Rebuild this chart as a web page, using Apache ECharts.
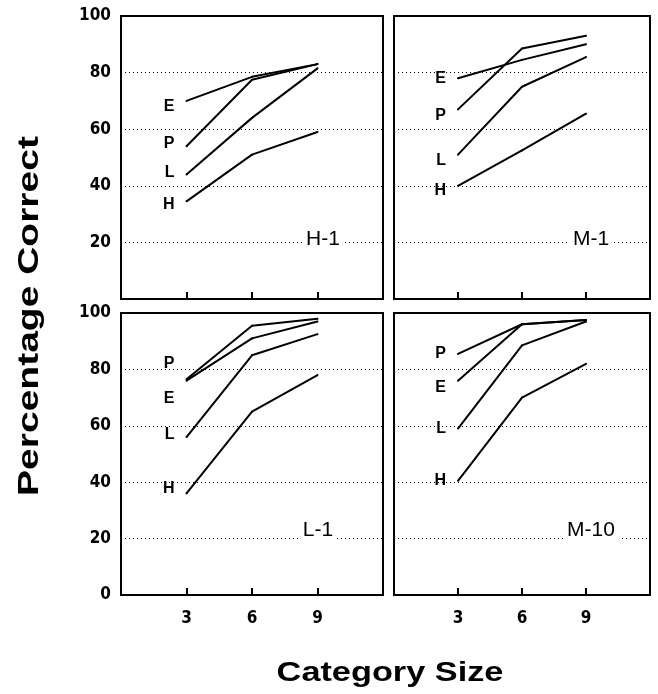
<!DOCTYPE html>
<html>
<head>
<meta charset="utf-8">
<script src="https://cdn.jsdelivr.net/npm/echarts@6/dist/echarts.min.js"></script>
<style>
  html, body { margin: 0; padding: 0; background: #fff; }
  #chart { width: 658px; height: 694px; }
</style>
</head>
<body>
<div id="chart"></div>
<script>
// category sizes on the x axis
const sizes = [3, 6, 9];
const yTicksTop = [20, 40, 60, 80, 100];
const yTicksBottom = [0, 20, 40, 60, 80, 100];

// percentage correct per condition, rows follow the names array
const namesTop = ["E", "P", "L", "H"];
const namesBottom = ["P", "E", "L", "H"];
const panelH1 = [[70, 78.5, 83], [54, 77.5, 83], [44, 64, 81.5], [34.5, 51, 59]];
const panelM1 = [[78, 84.5, 90], [67, 88.5, 93], [51, 75, 85.5], [40, 52.5, 65.5]];
const panelL1 = [[76.5, 95.5, 98], [76, 91, 97], [56, 85, 92.5], [36, 65, 78]];
const panelM10 = [[85.5, 96, 97.5], [76, 96, 97.5], [59, 88.5, 97], [40.5, 70, 82]];
const panelTitles = ["H-1", "M-1", "L-1", "M-10"];

const panels = [
  { title: panelTitles[0], names: namesTop, rows: panelH1, grid: { left: 121, top: 16, width: 262, height: 283 }, nudge: [6, -3, -2, 3], tag: [323, 239] },
  { title: panelTitles[1], names: namesTop, rows: panelM1, grid: { left: 394, top: 16, width: 256, height: 283 }, nudge: [0, 6, 6, 5], tag: [591, 239] },
  { title: panelTitles[2], names: namesBottom, rows: panelL1, grid: { left: 121, top: 313, width: 262, height: 282 }, nudge: [-16, 18, -2, -5], tag: [318, 530] },
  { title: panelTitles[3], names: namesBottom, rows: panelM10, grid: { left: 394, top: 313, width: 256, height: 282 }, nudge: [0, 7, 0, 0], tag: [591, 530] },
];

const tickFont = "'DejaVu Sans Condensed', 'DejaVu Sans', sans-serif";

const chart = echarts.init(document.getElementById("chart"));

const grids = [], xAxes = [], yAxes = [], series = [], graphics = [];

panels.forEach((p, i) => {
  const isLeft = i % 2 === 0;
  const isBottom = i >= 2;
  grids.push({ ...p.grid, show: true, borderColor: "#000", borderWidth: 2, backgroundColor: "#fff" });

  xAxes.push({
    gridIndex: i,
    type: "value",
    min: 0,
    max: 12,
    interval: 3,
    axisLine: { show: false },
    axisTick: { show: true, inside: true, length: 7, customValues: sizes, lineStyle: { color: "#000", width: 2 } },
    axisLabel: {
      show: isBottom,
      customValues: sizes,
      color: "#000",
      fontFamily: tickFont,
      fontWeight: "bold",
      fontSize: 17,
      margin: 15,
    },
    splitLine: { show: false },
  });

  yAxes.push({
    gridIndex: i,
    type: "value",
    min: 0,
    max: 100,
    interval: 20,
    axisLine: { show: false },
    axisTick: { show: false },
    axisLabel: {
      show: isLeft,
      customValues: isBottom ? yTicksBottom : yTicksTop,
      color: "#000",
      fontFamily: tickFont,
      fontWeight: "bold",
      fontSize: 17,
      margin: 10,
    },
    splitLine: { show: true, lineStyle: { color: "#000", width: 1, type: [1, 3] } },
  });

  p.rows.forEach((vals, k) => {
    series.push({
      type: "line",
      name: p.title + " " + p.names[k],
      xAxisIndex: i,
      yAxisIndex: i,
      symbol: "circle",
      symbolSize: 2,
      itemStyle: { color: "#000" },
      lineStyle: { color: "#000", width: 2 },
      silent: true,
      data: vals.map((v, j) => {
        const item = { value: [sizes[j], v] };
        if (j === 0) {
          item.label = {
            show: true,
            position: "left",
            distance: 11,
            offset: [0, p.nudge[k]],
            formatter: p.names[k],
            color: "#000",
            fontFamily: "'Liberation Sans', Arial, sans-serif",
            fontWeight: "bold",
            fontSize: 16,
          };
        }
        return item;
      }),
    });
  });

  graphics.push({
    type: "text",
    x: p.tag[0],
    y: p.tag[1],
    z: 10,
    style: {
      text: p.title,
      fill: "#000",
      font: "21px 'Liberation Sans', Arial, sans-serif",
      textAlign: "center",
      textVerticalAlign: "middle",
      backgroundColor: "#fff",
      padding: [0, 4],
    },
  });
});

graphics.push({
  type: "text",
  x: 30,
  y: 316,
  rotation: Math.PI / 2,
  scaleX: 1.3,
  style: {
    text: "Percentage Correct",
    fill: "#000",
    font: "bold 30px 'Liberation Sans', Arial, sans-serif",
    textAlign: "center",
    textVerticalAlign: "middle",
  },
});

graphics.push({
  type: "text",
  x: 390,
  y: 674,
  scaleX: 1.27,
  style: {
    text: "Category Size",
    fill: "#000",
    font: "bold 27px 'Liberation Sans', Arial, sans-serif",
    textAlign: "center",
    textVerticalAlign: "middle",
  },
});

chart.setOption({
  animation: false,
  backgroundColor: "#fff",
  grid: grids,
  xAxis: xAxes,
  yAxis: yAxes,
  series: series,
  graphic: graphics,
});
</script>
</body>
</html>
